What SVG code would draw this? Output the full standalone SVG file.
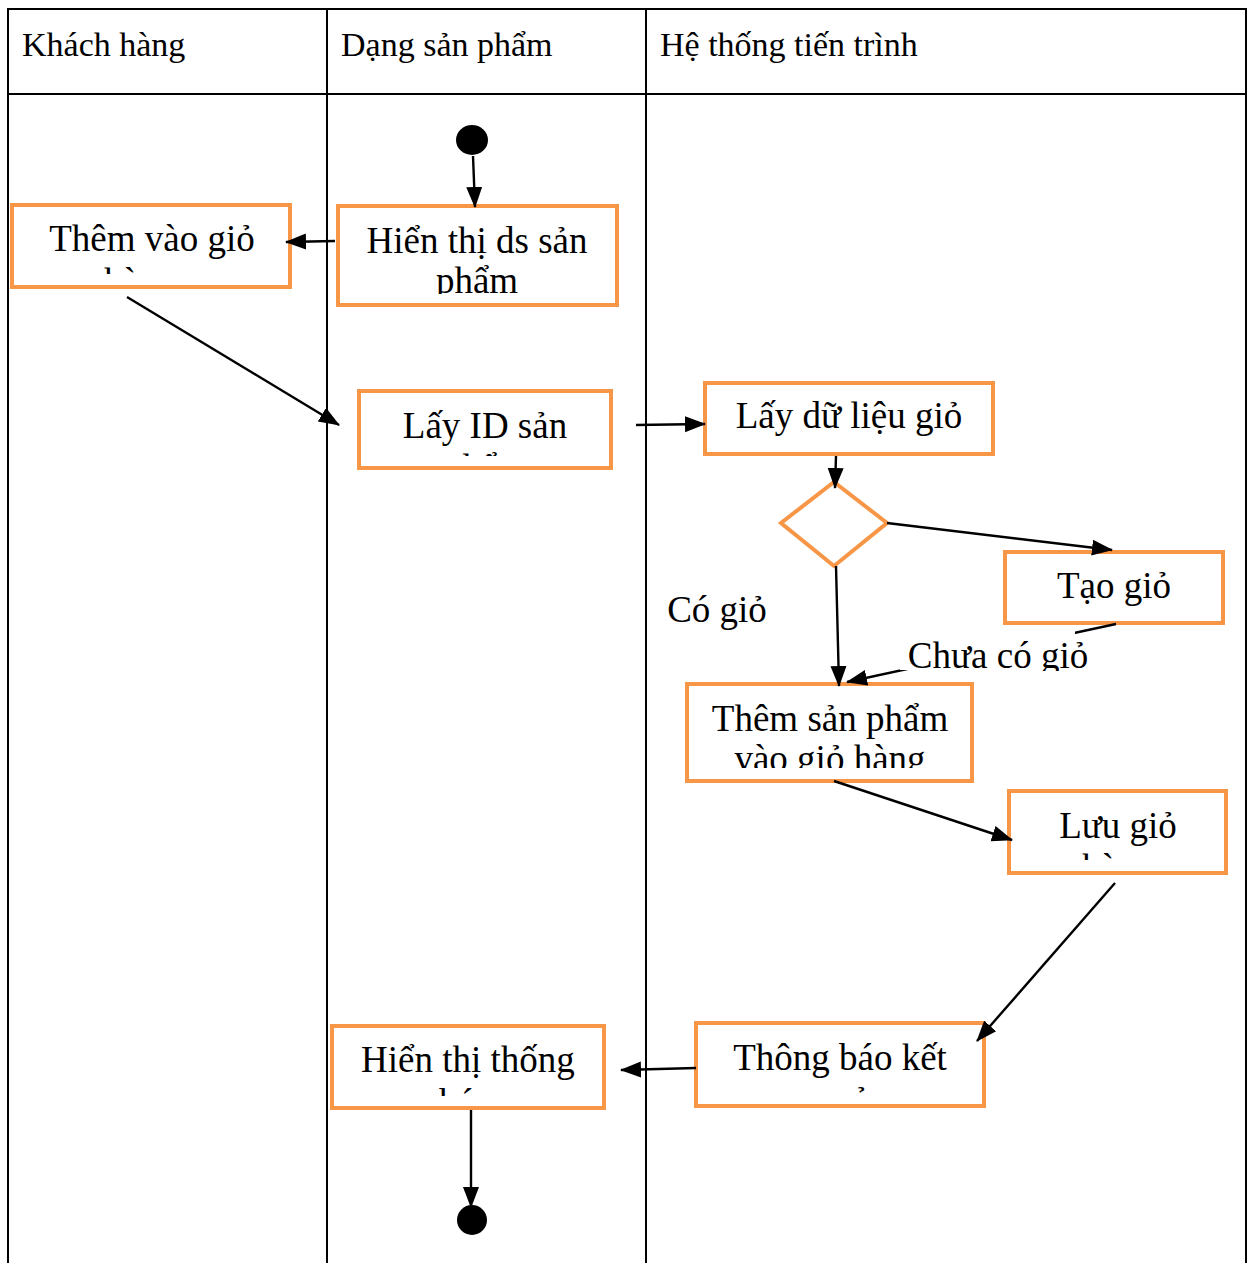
<svg xmlns="http://www.w3.org/2000/svg" width="1249" height="1263" viewBox="0 0 1249 1263">
<style>
.lane{stroke:#000;stroke-width:2;fill:none}
.box{fill:#fff;stroke:#F79646;stroke-width:4}
.t{font-family:"Liberation Serif","Times New Roman","DejaVu Serif",serif;font-size:37px;fill:#000;text-anchor:middle}
.h{font-family:"Liberation Serif","Times New Roman","DejaVu Serif",serif;font-size:34px;fill:#000}
.c{stroke:#000;stroke-width:2.4;fill:none;marker-end:url(#arr)}
</style>
<defs>
<marker id="arr" markerUnits="userSpaceOnUse" markerWidth="22" markerHeight="18" refX="20" refY="9" orient="auto">
<path d="M0,1 L21,9 L0,17 z" fill="#000"/>
</marker>
<clipPath id="c1"><rect x="14" y="207" width="274" height="67"/></clipPath>
<clipPath id="c2"><rect x="340" y="208" width="275" height="86"/></clipPath>
<clipPath id="c3"><rect x="361" y="393" width="248" height="63"/></clipPath>
<clipPath id="c5"><rect x="689" y="686" width="281" height="82"/></clipPath>
<clipPath id="c6"><rect x="1011" y="793" width="214" height="67"/></clipPath>
<clipPath id="c7"><rect x="698" y="1025" width="284" height="68"/></clipPath>
<clipPath id="c8"><rect x="334" y="1028" width="269" height="68"/></clipPath>
<clipPath id="cl"><rect x="900" y="623" width="200" height="48"/></clipPath>
</defs>
<rect width="1249" height="1263" fill="#fff"/>
<g id="lanes">
<line class="lane" x1="7" y1="9" x2="1247" y2="9" stroke-width="2.5"/>
<line class="lane" x1="8" y1="9" x2="8" y2="1263"/>
<line class="lane" x1="327" y1="9" x2="327" y2="1263"/>
<line class="lane" x1="646" y1="9" x2="646" y2="1263"/>
<line class="lane" x1="1246" y1="9" x2="1246" y2="1263"/>
<line class="lane" x1="8" y1="94" x2="1246" y2="94"/>
<text class="h" x="22" y="56">Khách hàng</text>
<text class="h" x="341" y="56">Dạng sản phẩm</text>
<text class="h" x="660" y="56">Hệ thống tiến trình</text>
</g>
<g id="start"><ellipse cx="472" cy="140" rx="16" ry="15" fill="#000"/></g>
<g id="end"><circle cx="472" cy="1220" r="15" fill="#000"/></g>
<g id="n1">
<rect class="box" x="12" y="205" width="278" height="82"/>
<g clip-path="url(#c1)"><text class="t" x="152" y="251">Thêm vào giỏ</text><text class="t" x="140" y="294">hàng</text></g>
</g>
<g id="n2">
<rect class="box" x="338" y="206" width="279" height="99"/>
<g clip-path="url(#c2)"><text class="t" x="477" y="253">Hiển thị ds sản</text><text class="t" x="477" y="293">phẩm</text></g>
</g>
<g id="n3">
<rect class="box" x="359" y="391" width="252" height="77"/>
<g clip-path="url(#c3)"><text class="t" x="485" y="438">Lấy ID sản</text><text class="t" x="485" y="480">phẩm</text></g>
</g>
<g id="n4">
<rect class="box" x="705" y="383" width="288" height="71"/>
<text class="t" x="849" y="428">Lấy dữ liệu giỏ</text>
</g>
<g id="decision">
<polygon points="834,482 887,523 834,566 781,523" fill="#fff" stroke="#F79646" stroke-width="4"/>
</g>
<g id="n5">
<rect class="box" x="1005" y="552" width="218" height="71"/>
<text class="t" x="1114" y="598">Tạo giỏ</text>
</g>
<g id="n6">
<rect class="box" x="687" y="684" width="285" height="97"/>
<g clip-path="url(#c5)"><text class="t" x="830" y="731">Thêm sản phẩm</text><text class="t" x="830" y="771">vào giỏ hàng</text></g>
</g>
<g id="n7">
<rect class="box" x="1009" y="791" width="217" height="82"/>
<g clip-path="url(#c6)"><text class="t" x="1118" y="880">hàng</text><text class="t" x="1118" y="838">Lưu giỏ</text></g>
</g>
<g id="n8">
<rect class="box" x="696" y="1023" width="288" height="83"/>
<g clip-path="url(#c7)"><text class="t" x="840" y="1070">Thông báo kết</text><text class="t" x="842" y="1113">quả</text></g>
</g>
<g id="n9">
<rect class="box" x="332" y="1026" width="272" height="82"/>
<g clip-path="url(#c8)"><text class="t" x="468" y="1072">Hiển thị thống</text><text class="t" x="466" y="1115">báo</text></g>
</g>
<g id="connectors">
<line class="c" x1="473" y1="156" x2="475" y2="207"/>
<line class="c" x1="335" y1="241" x2="286" y2="242"/>
<line class="c" x1="127" y1="297" x2="339" y2="425"/>
<line class="c" x1="636" y1="425" x2="705" y2="424"/>
<line class="c" x1="836" y1="456" x2="835" y2="488"/>
<line class="c" x1="887" y1="523" x2="1112" y2="550"/>
<line class="c" x1="836" y1="566" x2="839" y2="686"/>
<line class="c" x1="1116" y1="624" x2="847" y2="682"/>
<line class="c" x1="834" y1="781" x2="1012" y2="840"/>
<line class="c" x1="1115" y1="883" x2="977" y2="1041"/>
<line class="c" x1="696" y1="1068" x2="621" y2="1070"/>
<line class="c" x1="471" y1="1110" x2="471" y2="1207"/>
</g>
<g id="lbl-co">
<text class="t" x="717" y="622">Có giỏ</text>
</g>
<g id="lbl-chua">
<rect x="900" y="625" width="175" height="45" fill="#fff"/>
<g clip-path="url(#cl)"><text class="t" x="998" y="668">Chưa có giỏ</text></g>
</g>
</svg>
